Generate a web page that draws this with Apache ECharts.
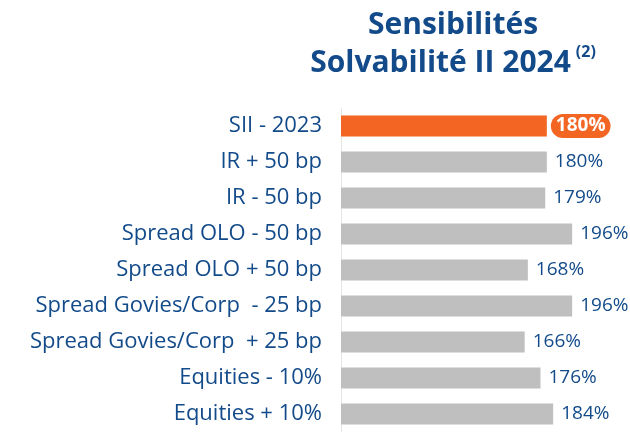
<!DOCTYPE html>
<html>
<head>
<meta charset="utf-8">
<script src="https://cdn.jsdelivr.net/npm/echarts@6/dist/echarts.min.js"></script>
<style>
    html, body { margin: 0; padding: 0; background: #fff; }
    #chart { width: 630px; height: 432px; }
</style>
</head>
<body>
<div id="chart"></div>
<script>
// scénarios, du haut vers le bas
var categories = [
    "SII - 2023",
    "IR + 50 bp",
    "IR - 50 bp",
    "Spread OLO - 50 bp",
    "Spread OLO + 50 bp",
    "Spread Govies/Corp  - 25 bp",
    "Spread Govies/Corp  + 25 bp",
    "Equities - 10%",
    "Equities + 10%"
];
var ratios = [180, 180, 179, 196, 168, 196, 166, 176, 184];
var highlightIndex = 0;

var blue = "#134b8a";
var font = "Open Sans";
var chart = echarts.init(document.getElementById("chart"));

var data = ratios.map(function (v, i) {
    var item = { value: v };
    if (i === highlightIndex) {
        item.itemStyle = { color: "#f26522" };
        item.label = {
            color: "#fff",
            fontWeight: "bold",
            backgroundColor: "#f26522",
            borderRadius: 30,
            padding: [3, 5, 2, 5],
            distance: 4
        };
    }
    return item;
});

var option = {
    animation: false,
    title: {
        left: 448,
        top: 1,
        textAlign: "center",
        text: "{t|Sensibilités}\n{t|Solvabilité II 2024} {s|(2)}",
        textStyle: {
            rich: {
                t: { fontFamily: font, fontWeight: "bold", fontSize: 30, color: blue, lineHeight: 38 },
                s: { fontFamily: font, fontWeight: "bold", fontSize: 16, color: blue, verticalAlign: "top", lineHeight: 32 }
            }
        }
    },
    grid: {
        left: 341,
        top: 108,
        width: 285,
        height: 326
    },
    xAxis: {
        type: "value",
        min: 50,
        max: 230,
        show: false
    },
    yAxis: {
        type: "category",
        inverse: true,
        data: categories,
        axisLine: { show: true, lineStyle: { color: "#e6e6e6", width: 1 } },
        axisTick: { show: false },
        axisLabel: {
            margin: 19,
            fontFamily: font,
            fontSize: 22,
            color: blue
        }
    },
    series: [
        {
            type: "bar",
            data: data,
            barWidth: 21,
            itemStyle: { color: "#bfbfbf" },
            label: {
                show: true,
                position: "right",
                distance: 8,
                fontFamily: font,
                fontSize: 19,
                color: blue,
                formatter: "{c}%"
            }
        }
    ]
};

chart.setOption(option);
</script>
</body>
</html>
